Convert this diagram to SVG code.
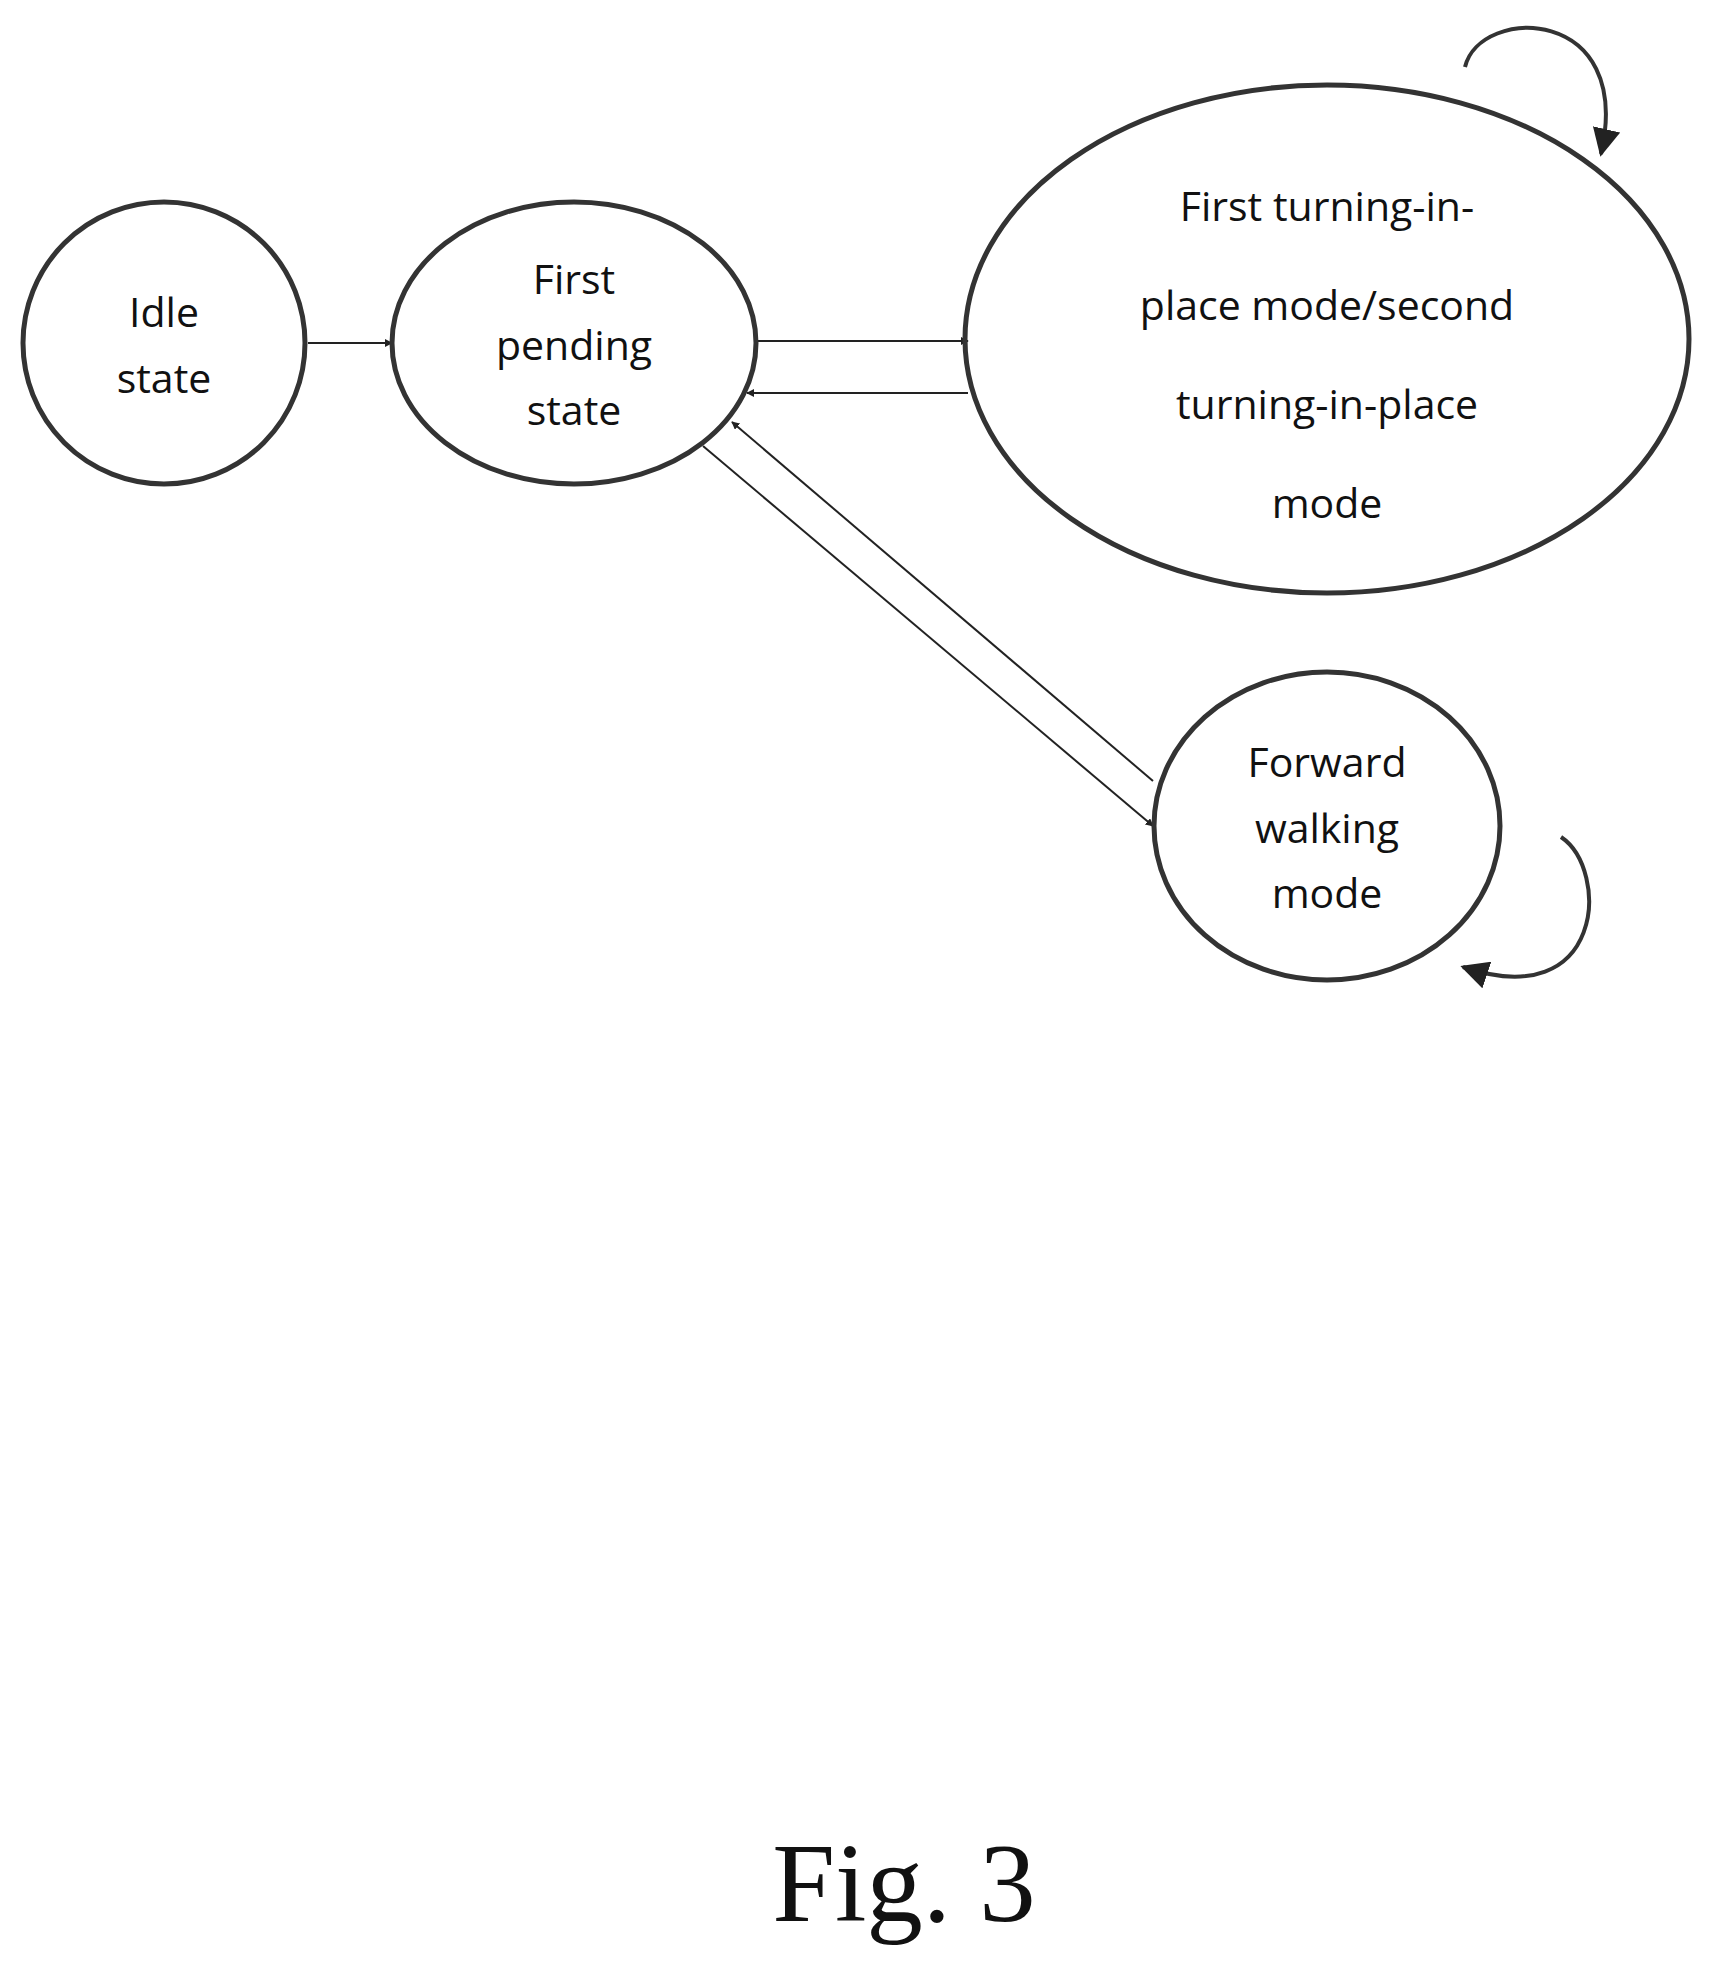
<svg xmlns="http://www.w3.org/2000/svg" width="1710" height="1965" viewBox="0 0 1710 1965">
<defs>
<style>
.n{fill:none;stroke:#333;stroke-width:5}
.t{font-family:"Open Sans","Liberation Sans",sans-serif;font-size:41px;fill:#111;text-anchor:middle}
.c{fill:none;stroke:#222;stroke-width:2}
.l{fill:none;stroke:#333;stroke-width:4}
</style>
<marker id="a" viewBox="0 0 10 10" refX="9" refY="5" markerWidth="8" markerHeight="8" markerUnits="userSpaceOnUse" orient="auto"><path d="M0,0L10,5L0,10z" fill="#222"/></marker>
<marker id="b" viewBox="0 0 10 10" refX="9" refY="5" markerWidth="7" markerHeight="7" orient="auto"><path d="M0,0L10,5L0,10z" fill="#222"/></marker>
</defs>
<rect width="1710" height="1965" fill="#fff"/>
<g id="connectors">
<line class="c" x1="308" y1="343" x2="392" y2="343" marker-end="url(#a)" style="marker-end:url(#a)"/>
<line class="c" x1="757" y1="341" x2="968" y2="341" marker-end="url(#a)"/>
<line class="c" x1="968" y1="393" x2="747" y2="393" marker-end="url(#a)"/>
<line class="c" x1="703" y1="446" x2="1153" y2="826" marker-end="url(#a)"/>
<line class="c" x1="1153" y1="781" x2="732" y2="422" marker-end="url(#a)"/>
<path class="l" d="M1465,67 C1480,5 1635,5 1601,154" marker-end="url(#b)"/>
<path class="l" d="M1561,837 C1610,870 1605,1015 1463,967" marker-end="url(#b)"/>
</g>
<g id="idle"><ellipse class="n" cx="164" cy="343" rx="141" ry="141"/><text class="t" x="164" y="327">Idle</text><text class="t" x="164" y="393">state</text></g>
<g id="pending"><ellipse class="n" cx="574" cy="343" rx="182" ry="141"/><text class="t" x="574" y="294">First</text><text class="t" x="574" y="360">pending</text><text class="t" x="574" y="425">state</text></g>
<g id="turning"><ellipse class="n" cx="1327" cy="339" rx="362" ry="254"/><text class="t" x="1327" y="221">First turning-in-</text><text class="t" x="1327" y="320">place mode/second</text><text class="t" x="1327" y="419">turning-in-place</text><text class="t" x="1327" y="518">mode</text></g>
<g id="forward"><ellipse class="n" cx="1327" cy="826" rx="173" ry="154"/><text class="t" x="1327" y="777">Forward</text><text class="t" x="1327" y="843">walking</text><text class="t" x="1327" y="908">mode</text></g>
<text x="904" y="1921" font-family="Liberation Serif,serif" font-size="113" text-anchor="middle" fill="#111">Fig. 3</text>
</svg>
